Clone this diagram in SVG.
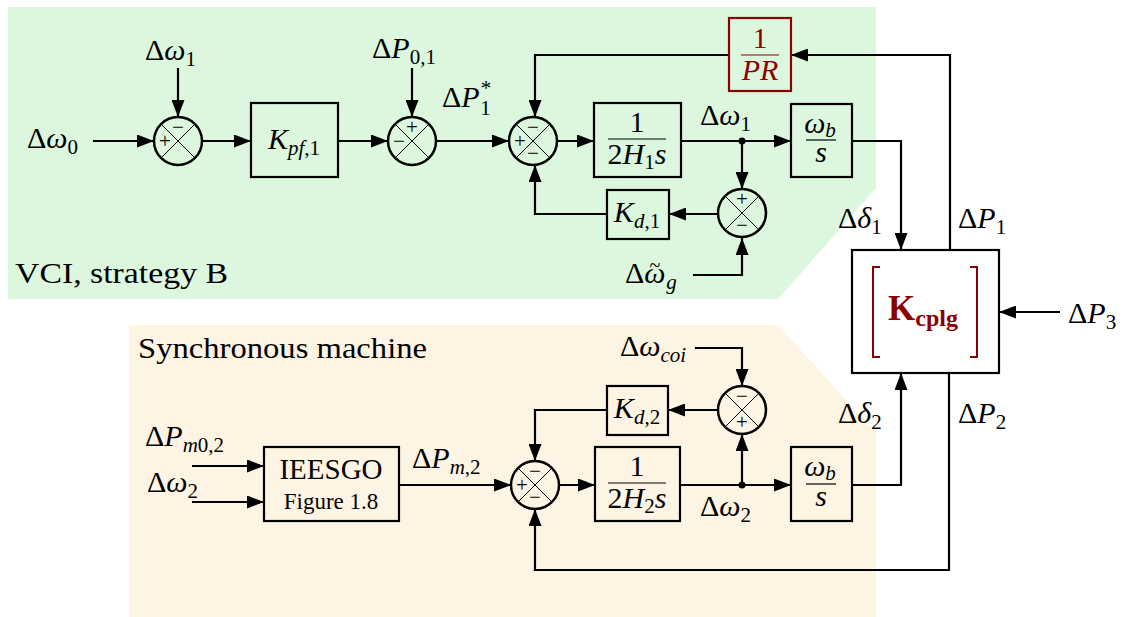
<svg xmlns="http://www.w3.org/2000/svg" xmlns:xlink="http://www.w3.org/1999/xlink" width="1132" height="617" viewBox="0 0 1132 617" font-family="'Liberation Serif', 'Times New Roman', 'DejaVu Serif', serif">
<style>
text{font-family:'Liberation Serif','Times New Roman','DejaVu Serif',serif}
.m{font-size:30px;fill:#000}
.i{font-style:italic}
.s{font-size:21px}
.t{fill:#000}
.box{fill:none;stroke:#000;stroke-width:2.2}
.rbox{fill:none;stroke:#8b0000;stroke-width:2.2}
.wa{fill:none;stroke:#000;stroke-width:2.2;marker-end:url(#ah)}
.sg{font-size:21px;fill:#000;text-anchor:middle}
.frac{stroke:#000;stroke-width:1.2}
.red{fill:#8b0000}
</style>
<defs>
<marker id="ah" markerUnits="userSpaceOnUse" markerWidth="17" markerHeight="13" refX="17" refY="6.5" orient="auto">
<path d="M0,0 L17,6.5 L0,13 z" fill="#000"/>
</marker>
<g id="sum">
<circle cx="0" cy="0" r="24" fill="none" stroke="#000" stroke-width="2.5"/>
<path d="M-17,-17 L17,17 M17,-17 L-17,17" stroke="#000" stroke-width="1"/>
</g>
</defs>

<g id="region-vci">
<polygon points="8,7 876,7 876,188 778,299 8,299" fill="#dcf7de"/>
<text class="t" x="15" y="283" font-size="30" textLength="213" lengthAdjust="spacingAndGlyphs">VCI, strategy B</text>
</g>
<g id="region-sm">
<polygon points="129,325 778,325 876,433 876,617 129,617" fill="#fef4e4"/>
<text class="t" x="138" y="358" font-size="30" textLength="289" lengthAdjust="spacingAndGlyphs">Synchronous machine</text>
</g>

<g id="connectors">
<path class="wa" d="M93,141 L154,141"/>
<path class="wa" d="M178,68 L178,117"/>
<path class="wa" d="M203,141 L251,141"/>
<path class="wa" d="M338,141 L388,141"/>
<path class="wa" d="M412,68 L412,117"/>
<path class="wa" d="M436,141 L509,141"/>
<path class="wa" d="M557,141 L594,141"/>
<path class="wa" d="M681,141 L791,141"/>
<circle cx="742" cy="141" r="3.5" fill="#000"/>
<path class="wa" d="M852,141 L901,141 L901,250"/>
<path class="wa" d="M950,250 L950,55 L791,55"/>
<path class="wa" d="M729,55 L535,55 L535,117"/>
<path class="wa" d="M742,141 L742,189"/>
<path class="wa" d="M718,214 L669,214"/>
<path class="wa" d="M607,214 L535,214 L535,165"/>
<path class="wa" d="M693,275 L742,275 L742,238"/>
<path class="wa" d="M1060,312 L999,312"/>
<path class="wa" d="M192,466 L264,466"/>
<path class="wa" d="M192,502 L264,502"/>
<path class="wa" d="M399,485 L511,485"/>
<path class="wa" d="M559,485 L595,485"/>
<path class="wa" d="M680,485 L791,485"/>
<circle cx="742" cy="485" r="3.5" fill="#000"/>
<path class="wa" d="M742,485 L742,434"/>
<path class="wa" d="M695,348 L742,348 L742,386"/>
<path class="wa" d="M718,410 L668,410"/>
<path class="wa" d="M607,410 L535,410 L535,461"/>
<path class="wa" d="M852,485 L901,485 L901,373"/>
<path class="wa" d="M949,373 L949,570 L535,570 L535,509"/>
</g>

<g id="labels">
<text class="m" x="27" y="148">Δ<tspan class="i">ω</tspan><tspan class="s" dy="6">0</tspan></text>
<text class="m" x="145" y="60">Δ<tspan class="i">ω</tspan><tspan class="s" dy="6">1</tspan></text>
<text class="m" x="372" y="58">Δ<tspan class="i">P</tspan><tspan class="s" dy="6">0,1</tspan></text>
<text class="m" x="442" y="107">Δ<tspan class="i">P</tspan><tspan class="s" dx="1" dy="-12">*</tspan><tspan class="s" dx="-11" dy="20">1</tspan></text>
<text class="m" x="700" y="125">Δ<tspan class="i">ω</tspan><tspan class="s" dy="6">1</tspan></text>
<text class="m" x="838" y="228">Δ<tspan class="i">δ</tspan><tspan class="s" dy="6">1</tspan></text>
<text class="m" x="958" y="228">Δ<tspan class="i">P</tspan><tspan class="s" dy="6">1</tspan></text>
<text class="m" x="625" y="283">Δ<tspan class="i">ω</tspan><tspan font-size="20" dx="-16" dy="-11">~</tspan><tspan class="s i" dx="6" dy="17">g</tspan></text>
<text class="m" x="1068" y="323">Δ<tspan class="i">P</tspan><tspan class="s" dy="6">3</tspan></text>
<text class="m" x="838" y="423">Δ<tspan class="i">δ</tspan><tspan class="s" dy="6">2</tspan></text>
<text class="m" x="958" y="423">Δ<tspan class="i">P</tspan><tspan class="s" dy="6">2</tspan></text>
<text class="m" x="145" y="446">Δ<tspan class="i">P</tspan><tspan class="s" dy="6"><tspan class="i">m</tspan>0,2</tspan></text>
<text class="m" x="147" y="492">Δ<tspan class="i">ω</tspan><tspan class="s" dy="6">2</tspan></text>
<text class="m" x="412" y="468">Δ<tspan class="i">P</tspan><tspan class="s" dy="6"><tspan class="i">m</tspan>,2</tspan></text>
<text class="m" x="620" y="356">Δ<tspan class="i">ω</tspan><tspan class="s i" dy="6">coi</tspan></text>
<text class="m" x="700" y="516">Δ<tspan class="i">ω</tspan><tspan class="s" dy="6">2</tspan></text>
</g>

<g id="sum1"><use xlink:href="#sum" x="178" y="141"/>
<text class="sg" x="178" y="134">−</text><text class="sg" x="165" y="148">+</text></g>
<g id="sum2"><use xlink:href="#sum" x="412" y="141"/>
<text class="sg" x="412" y="134">+</text><text class="sg" x="399" y="148">−</text></g>
<g id="sum3"><use xlink:href="#sum" x="533" y="141"/>
<text class="sg" x="533" y="134">−</text><text class="sg" x="520" y="148">+</text><text class="sg" x="533" y="160">−</text></g>
<g id="sum4"><use xlink:href="#sum" x="742" y="213"/>
<text class="sg" x="742" y="206">+</text><text class="sg" x="742" y="232">−</text></g>
<g id="sum5"><use xlink:href="#sum" x="535" y="485"/>
<text class="sg" x="535" y="478">−</text><text class="sg" x="522" y="492">+</text><text class="sg" x="535" y="504">−</text></g>
<g id="sum6"><use xlink:href="#sum" x="742" y="410"/>
<text class="sg" x="742" y="403">−</text><text class="sg" x="742" y="429">+</text></g>

<g id="kpf1"><rect class="box" x="251" y="103" width="87" height="74"/>
<text class="m" x="294" y="149" text-anchor="middle"><tspan class="i">K</tspan><tspan class="s" dy="6"><tspan class="i">pf</tspan>,1</tspan></text></g>

<g id="h1"><rect class="box" x="594" y="103" width="87" height="74"/>
<text class="m" x="637" y="132" text-anchor="middle" font-size="24">1</text>
<line class="frac" x1="608" y1="139" x2="666" y2="139"/>
<text class="m" x="637" y="164" text-anchor="middle" font-size="24">2<tspan class="i">H</tspan><tspan class="s" dy="5">1</tspan><tspan class="i" dy="-5">s</tspan></text></g>

<g id="wb1"><rect class="box" x="791" y="104" width="61" height="73"/>
<text class="m i" x="820" y="133" text-anchor="middle" font-size="24">ω<tspan class="s" dy="4">b</tspan></text>
<line class="frac" x1="806" y1="140" x2="836" y2="140"/>
<text class="m i" x="821" y="162" text-anchor="middle" font-size="24">s</text></g>

<g id="pr"><rect class="rbox" x="729" y="18" width="62" height="73"/>
<text class="m red" x="760" y="48" text-anchor="middle" font-size="24">1</text>
<line x1="741" y1="55" x2="779" y2="55" stroke="#8b0000" stroke-width="1.2"/>
<text class="m i red" x="760" y="80" text-anchor="middle" font-size="24">PR</text></g>

<g id="kd1"><rect class="box" x="607" y="190" width="62" height="49"/>
<text class="m" x="637" y="222" text-anchor="middle"><tspan class="i">K</tspan><tspan class="s" dy="6"><tspan class="i">d</tspan>,1</tspan></text></g>

<g id="kcplg"><rect class="box" x="852" y="250" width="147" height="123"/>
<path d="M880,267 L873,267 L873,357 L880,357 M970,267 L977,267 L977,357 L970,357" fill="none" stroke="#8b0000" stroke-width="2"/>
<text class="t red" x="923" y="320" text-anchor="middle" font-size="35" font-weight="bold">K<tspan font-size="24" dy="6">cplg</tspan></text></g>

<g id="ieesgo"><rect class="box" x="264" y="447" width="135" height="74"/>
<text class="t" x="331" y="479" text-anchor="middle" font-size="29">IEESGO</text>
<text class="t" x="331" y="509" text-anchor="middle" font-size="23">Figure 1.8</text></g>

<g id="h2"><rect class="box" x="595" y="447" width="85" height="74"/>
<text class="m" x="637" y="476" text-anchor="middle" font-size="24">1</text>
<line class="frac" x1="608" y1="483" x2="666" y2="483"/>
<text class="m" x="637" y="508" text-anchor="middle" font-size="24">2<tspan class="i">H</tspan><tspan class="s" dy="5">2</tspan><tspan class="i" dy="-5">s</tspan></text></g>

<g id="wb2"><rect class="box" x="791" y="447" width="61" height="74"/>
<text class="m i" x="820" y="476" text-anchor="middle" font-size="24">ω<tspan class="s" dy="4">b</tspan></text>
<line class="frac" x1="806" y1="484" x2="836" y2="484"/>
<text class="m i" x="821" y="506" text-anchor="middle" font-size="24">s</text></g>

<g id="kd2"><rect class="box" x="607" y="386" width="61" height="49"/>
<text class="m" x="637" y="418" text-anchor="middle"><tspan class="i">K</tspan><tspan class="s" dy="6"><tspan class="i">d</tspan>,2</tspan></text></g>
</svg>
